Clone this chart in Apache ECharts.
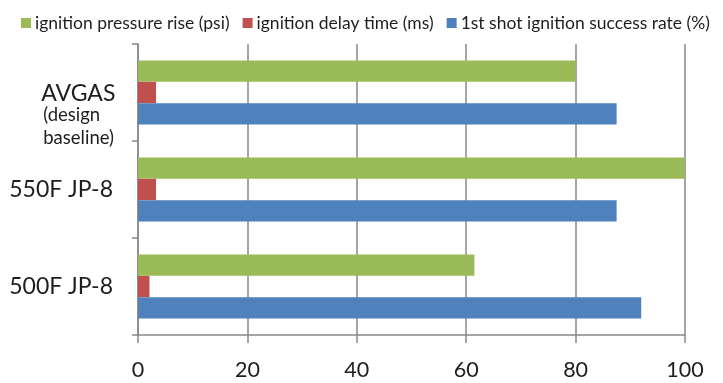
<!DOCTYPE html>
<html>
<head>
<meta charset="utf-8">
<script src="https://cdn.jsdelivr.net/npm/echarts@6/dist/echarts.min.js"></script>
<style>
  html, body { margin: 0; padding: 0; background: #fff; }
  #chart { width: 723px; height: 383px; }
</style>
</head>
<body>
<div id="chart"></div>
<script>
// Fuels, listed bottom to top on the category axis
const categories = ['500F JP-8', '550F JP-8', 'AVGAS (design baseline)'];

// Measured values per fuel (same order as categories)
const pressureRise = [61.5, 100, 80];      // ignition pressure rise (psi)
const delayTime = [2.1, 3.3, 3.3];         // ignition delay time (ms)
const successRate = [92, 87.5, 87.5];      // 1st shot ignition success rate (%)

const xTicks = { min: 0, max: 100, interval: 20 };

const seriesNames = [
  'ignition pressure rise (psi)',
  'ignition delay time (ms)',
  '1st shot ignition success rate (%)'
];
const colors = ['#9BBB59', '#C0504D', '#4F81BD'];

const FONT = 'Lato';
const TEXT = '#1e1e1e';
const axisGray = '#898989';

const chart = echarts.init(document.getElementById('chart'), null, { renderer: 'canvas' });

const makeSeries = (name, data, color) => ({
  name,
  type: 'bar',
  data,
  barGap: '0%',
  barCategoryGap: '34%',
  itemStyle: { color },
  emphasis: { disabled: true }
});

chart.setOption({
  animation: false,
  textStyle: { fontFamily: FONT },
  legend: {
    data: seriesNames,
    left: 16,
    top: 9,
    icon: 'rect',
    itemWidth: 10,
    itemHeight: 10,
    itemGap: 13,
    textStyle: { fontFamily: FONT, fontSize: 17.5, color: TEXT, padding: [0, 0, 0, -1] }
  },
  grid: { left: 138, right: 38, top: 44, bottom: 48, containLabel: false },
  xAxis: {
    type: 'value',
    min: xTicks.min,
    max: xTicks.max,
    interval: xTicks.interval,
    axisLine: { show: true, lineStyle: { color: axisGray, width: 1.5 } },
    axisTick: { show: true, length: 8, lineStyle: { color: axisGray, width: 1.5 } },
    splitLine: { show: true, lineStyle: { color: axisGray, width: 1.5 } },
    axisLabel: { fontFamily: FONT, fontSize: 21.5, color: TEXT, margin: 24 }
  },
  yAxis: {
    type: 'category',
    data: categories,
    axisLine: { show: true, lineStyle: { color: axisGray, width: 1.5 } },
    axisTick: { show: true, length: 6, lineStyle: { color: axisGray, width: 1.5 } },
    axisLabel: {
      margin: 18,
      color: TEXT,
      formatter: (v) => {
        if (v.startsWith('AVGAS')) {
          // the baseline fuel wraps onto three lines
          return '{sp| }\n{big|AVGAS}\n{small|(design}\n{small2|baseline)}';
        }
        return '{name|' + v + '}';
      },
      rich: {
        sp: { fontSize: 2, lineHeight: 49 },
        name: { fontFamily: FONT, fontSize: 23, color: TEXT, padding: [0, 7, 0, 0] },
        big: { fontFamily: FONT, fontSize: 23, color: TEXT, lineHeight: 22, align: 'left' },
        small: { fontFamily: FONT, fontSize: 18.5, color: TEXT, lineHeight: 21, align: 'left', padding: [0, 0, 0, 2] },
        small2: { fontFamily: FONT, fontSize: 18.5, color: TEXT, lineHeight: 26, align: 'left', padding: [0, 6, 0, 2] }
      }
    }
  },
  series: [
    makeSeries(seriesNames[0], pressureRise, colors[0]),
    makeSeries(seriesNames[1], delayTime, colors[1]),
    makeSeries(seriesNames[2], successRate, colors[2])
  ]
});
</script>
</body>
</html>
